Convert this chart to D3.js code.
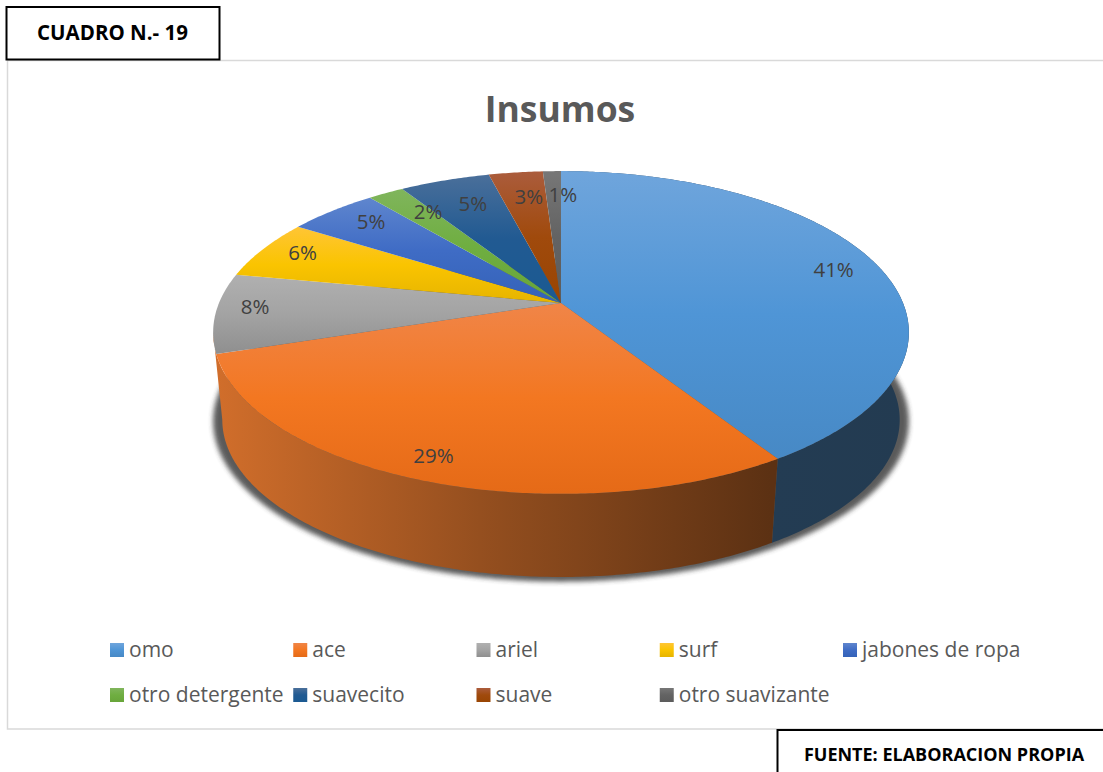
<!DOCTYPE html>
<html lang="es">
<head>
<meta charset="utf-8">
<title>Insumos</title>
<script src="https://cdn.jsdelivr.net/npm/d3@7/dist/d3.min.js"></script>
<style>
  html, body { margin: 0; padding: 0; background: #fff; }
  svg { display: block; }
  text { font-family: "Open Sans", "Noto Sans", sans-serif; }
</style>
</head>
<body>
<svg id="chart" width="1103" height="772"></svg>
<script>
// Survey shares for each product, in percent
const categories = ["omo", "ace", "ariel", "surf", "jabones de ropa",
                    "otro detergente", "suavecito", "suave", "otro suavizante"];
const shares = [41, 29, 8, 6, 5, 2, 5, 3, 1];

// Base colour for each slice, plus the three stops of its top-face gradient
const palette = ["#5B9BD5", "#ED7D31", "#A5A5A5", "#FFC000", "#4472C4",
                 "#70AD47", "#255E91", "#9E480E", "#636363"];
const gradientLight = ["#6FA5DC", "#F08548", "#B0B0B0", "#FFC535", "#5F86CE",
                       "#80B55C", "#4A6F9A", "#AB5C3C", "#777777"];
const gradientMid = ["#4F95D6", "#F37721", "#A3A3A3", "#FAC400", "#3F6CC5",
                     "#6FAE41", "#215A92", "#A04A0C", "#636363"];
const gradientDark = ["#4789C5", "#E56A17", "#8F8F8F", "#E6B400", "#3462B8",
                      "#68A53A", "#1B5A92", "#994503", "#5C5C5C"];

// Label shifts from the slice's nominal anchor, so narrow slices stay readable
const labelShift = [[-1, 3], [-9, 2], [-6, -5], [3, -3], [12, 0], [22, 6], [15, 9], [8, 9], [10, 9]];

const svg = d3.select("#chart");
const defs = svg.append("defs");

// Perspective projection of the unit disc onto the page
const k = 0.1827;
function disc(cx, cy, rx, ry) {
  return (angle, radius = 1) => {
    const u = Math.sin(angle) * radius, v = -Math.cos(angle) * radius;
    const w = 1 - k * v;
    return [cx + rx * u / w, cy + ry * v / w];
  };
}
const topFace = disc(561, 303, 342, 156);
const baseFace = disc(561, 391, 333, 152);
const shadowFace = disc(561, 392, 342, 155);

const pie = d3.pie().value(d => d).sort(null);
const arcs = pie(shares);
const line = d3.line();
const arcPoints = (face, a0, a1) => {
  const n = Math.max(2, Math.ceil((a1 - a0) / 0.01));
  return d3.range(n + 1).map(i => face(a0 + (a1 - a0) * i / n));
};

// The wall is only seen up to the left tangent of the rim
const leftTangent = 1.5 * Math.PI - Math.asin(k);
const frontArcs = arcs.filter(d => d.startAngle < Math.PI);
const wallEnd = d => (d.index === frontArcs.length - 1 ? leftTangent : d.endAngle);

// Shade falloff along the wall, light on the left and dark on the right
const wallShade = d3.scaleLinear().domain([215, 480, 770, 910]).range([0.88, 0.63, 0.39, 0.38]);
const shaded = (c, f) => {
  const r = d3.rgb(c);
  return d3.rgb(r.r * f, r.g * f, r.b * f).formatHex();
};

palette.forEach((c, i) => {
  const g = defs.append("linearGradient").attr("id", "top" + i)
    .attr("x1", 0).attr("y1", 0).attr("x2", 0).attr("y2", 1);
  g.append("stop").attr("offset", "0%").attr("stop-color", gradientLight[i]);
  g.append("stop").attr("offset", "50%").attr("stop-color", gradientMid[i]);
  g.append("stop").attr("offset", "100%").attr("stop-color", gradientDark[i]);

  const w = defs.append("linearGradient").attr("id", "wall" + i)
    .attr("gradientUnits", "userSpaceOnUse")
    .attr("x1", 215).attr("y1", 0).attr("x2", 910).attr("y2", 0);
  wallShade.domain().forEach(x => {
    w.append("stop").attr("offset", (x - 215) / 695).attr("stop-color", shaded(c, wallShade(x)));
  });
});

const blur = defs.append("filter").attr("id", "soft")
  .attr("x", "-5%").attr("y", "-5%").attr("width", "110%").attr("height", "110%");
blur.append("feGaussianBlur").attr("stdDeviation", 2.4);

// Chart frame, running off the right edge of the page
svg.append("rect").attr("x", 7.5).attr("y", 60.5).attr("width", 1200).attr("height", 668.5)
  .attr("fill", "#fff").attr("stroke", "#d9d9d9").attr("stroke-width", 1.5);

svg.append("text").attr("x", 560).attr("y", 122).attr("text-anchor", "middle")
  .attr("font-size", 35.5).attr("font-weight", 700).attr("fill", "#595959").text("Insumos");

// Soft shadow under the pie
svg.append("path")
  .attr("d", line(arcPoints(shadowFace, 0, 2 * Math.PI)) + "Z")
  .attr("fill", "#333").attr("opacity", 0.8).attr("filter", "url(#soft)");

// Side walls
svg.append("g").selectAll("path").data(frontArcs).join("path")
  .attr("d", d => line(arcPoints(topFace, d.startAngle, wallEnd(d))
      .concat(arcPoints(baseFace, d.startAngle, wallEnd(d)).reverse())) + "Z")
  .attr("fill", d => `url(#wall${d.index})`);

// Top faces
svg.append("g").selectAll("path").data(arcs).join("path")
  .attr("d", d => line([topFace(0, 0)].concat(arcPoints(topFace, d.startAngle, d.endAngle))) + "Z")
  .attr("fill", (d, i) => `url(#top${i})`);

// Percent labels
svg.append("g").selectAll("text").data(arcs).join("text")
  .attr("transform", (d, i) => {
    const p = topFace((d.startAngle + d.endAngle) / 2, 0.87);
    return `translate(${p[0] + labelShift[i][0]},${p[1] + labelShift[i][1]})`;
  })
  .attr("text-anchor", "middle").attr("dy", "0.36em")
  .attr("font-size", 20.5).attr("fill", "#404040")
  .text(d => d.data + "%");

// Legend laid out in two rows of five columns
const legendColumn = d3.scalePoint().domain(d3.range(5)).range([110, 843]);
const legendRow = d3.scalePoint().domain([0, 1]).range([650, 695]);
const legend = svg.append("g").selectAll("g").data(categories).join("g")
  .attr("transform", (d, i) => `translate(${legendColumn(i % 5)},${legendRow(Math.floor(i / 5))})`);
legend.append("rect").attr("x", 0).attr("y", -7).attr("width", 14).attr("height", 14)
  .attr("fill", (d, i) => `url(#top${i})`);
legend.append("text").attr("x", 19).attr("y", -1).attr("dy", "0.36em")
  .attr("font-size", 21).attr("fill", "#595959").text(d => d);

// Caption boxes
svg.append("rect").attr("x", 6.5).attr("y", 7).attr("width", 213).attr("height", 52.5)
  .attr("fill", "#fff").attr("stroke", "#000").attr("stroke-width", 2);
svg.append("text").attr("x", 112.5).attr("y", 33).attr("dy", "0.36em").attr("text-anchor", "middle")
  .attr("font-size", 20.5).attr("font-weight", 700).attr("fill", "#000").text("CUADRO N.- 19");

svg.append("rect").attr("x", 777.5).attr("y", 730).attr("width", 400).attr("height", 100)
  .attr("fill", "#fff").attr("stroke", "#000").attr("stroke-width", 2);
svg.append("text").attr("x", 944).attr("y", 755).attr("dy", "0.36em").attr("text-anchor", "middle")
  .attr("font-size", 18).attr("font-weight", 700).attr("fill", "#000").text("FUENTE: ELABORACION PROPIA");
</script>
</body>
</html>
